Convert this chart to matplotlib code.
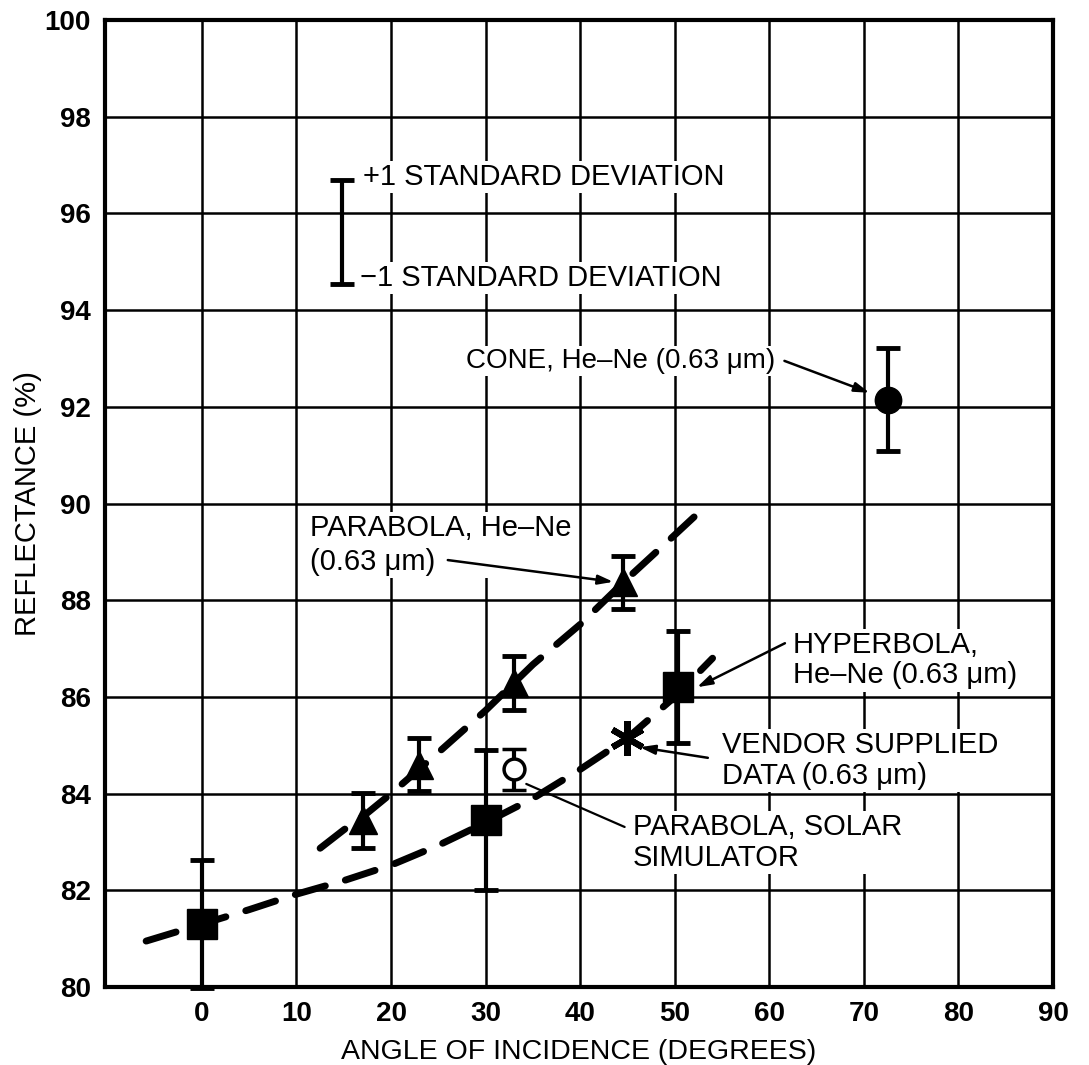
import matplotlib
matplotlib.use("Agg")
import matplotlib.pyplot as plt

plt.rcParams['font.family'] = ['Liberation Sans', 'DejaVu Sans']

# ---- data ----
hyp_x = [0, 30, 50.3]
hyp_y = [81.3, 83.45, 86.2]
hyp_err = [1.32, 1.45, 1.16]

par_x = [17, 23, 33, 44.5]
par_y = [83.45, 84.6, 86.28, 88.37]
par_err = [0.57, 0.54, 0.56, 0.55]

solar_x = [33]
solar_y = [84.5]
solar_err = [0.43]

cone_x = [72.5]
cone_y = [92.15]
cone_err = [1.07]

vendor_x = [45]
vendor_y = [85.15]

par_curve_x = [12.5, 15, 17.5, 20, 25, 30, 35, 40, 45, 50, 52.2]
par_curve_y = [82.87, 83.25, 83.6, 84.0, 84.85, 85.72, 86.67, 87.5, 88.45, 89.35, 89.75]

hyp_curve_x = [-5.9, 0, 5, 10, 15, 20, 25, 30, 35, 40, 45, 50, 54]
hyp_curve_y = [80.95, 81.3, 81.6, 81.92, 82.2, 82.52, 82.93, 83.4, 83.9, 84.5, 85.15, 86.0, 86.8]

x_ticks = [0, 10, 20, 30, 40, 50, 60, 70, 80, 90]
y_ticks = [80, 82, 84, 86, 88, 90, 92, 94, 96, 98, 100]

legend_x = 14.8
legend_lo, legend_hi = 94.55, 96.7

# ---- figure ----
W, H = 1089, 1065
fig = plt.figure(figsize=(W / 100, H / 100), dpi=100)
ax = fig.add_axes([105 / W, 1 - 987 / H, (1053 - 105) / W, (987 - 20) / H])
ax.set_xlim(-10.25, 90)
ax.set_ylim(80, 100)
ax.set_xticks(x_ticks)
ax.set_yticks(y_ticks)
ax.tick_params(length=0, labelsize=20, pad=10)
for lab in ax.get_xticklabels() + ax.get_yticklabels():
    lab.set_fontweight('bold')
ax.grid(True, color='black', lw=1.8, zorder=0)
ax.set_axisbelow(True)
for s in ax.spines.values():
    s.set_linewidth(3)
ax.set_xlabel('ANGLE OF INCIDENCE (DEGREES)', fontsize=20.5, va='center')
ax.set_ylabel('REFLECTANCE (%)', fontsize=21, va='center')
ax.xaxis.set_label_coords(0.5, -(1052 - 987) / 967)
ax.yaxis.set_label_coords(-(105 - 28) / 948, 0.5)

dash = dict(color='black', lw=5, ls=(0, (4.5, 3.0)), dash_capstyle='round', zorder=3)
ax.plot(par_curve_x, par_curve_y, **dash)
ax.plot(hyp_curve_x, hyp_curve_y, **dash)

eb = dict(color='black', elinewidth=3, capsize=8.5, capthick=3.5, ls='none', zorder=4, clip_on=False)
ax.errorbar(hyp_x, hyp_y, yerr=hyp_err, marker='s', ms=22, mfc='black', mec='black', **eb)
ax.errorbar(par_x, par_y, yerr=par_err, marker='^', ms=20, mfc='black', mec='black', **eb)
ax.errorbar(solar_x, solar_y, yerr=solar_err, marker='o', ms=15, mfc='white', mec='black', mew=2.5, **eb)
ax.errorbar(cone_x, cone_y, yerr=cone_err, marker='o', ms=19, mfc='black', mec='black', **eb)
ax.plot(vendor_x, vendor_y, ls='none', marker=(6, 2, 0), ms=25, mew=4.5, color='black', zorder=5)

# legend error bar
ax.errorbar([legend_x], [(legend_lo + legend_hi) / 2], yerr=[(legend_hi - legend_lo) / 2],
            color='black', elinewidth=3, capsize=8.5, capthick=3.5, ls='none', zorder=4)

box = dict(facecolor='white', edgecolor='none', pad=1.5)
tkw = dict(ha='left', va='center', bbox=box, zorder=6)
ax.text(17.0, 96.75, '+1 STANDARD DEVIATION', fontsize=21, **tkw)
ax.text(16.7, 94.66, '\u22121 STANDARD DEVIATION', fontsize=21, **tkw)
ax.text(27.9, 92.95, 'CONE, He\u2013Ne (0.63 \u03bcm)', fontsize=20, **tkw)
ax.text(11.4, 89.14, 'PARABOLA, He\u2013Ne\n(0.63 \u03bcm)', fontsize=21, linespacing=1.25, **tkw)
ax.text(62.5, 86.76, 'HYPERBOLA,\nHe\u2013Ne (0.63 \u03bcm)', fontsize=21, linespacing=1.12, **tkw)
ax.text(55.0, 84.69, 'VENDOR SUPPLIED\nDATA (0.63 \u03bcm)', fontsize=21, linespacing=1.12, **tkw)
ax.text(45.6, 82.99, 'PARABOLA, SOLAR\nSIMULATOR', fontsize=21, linespacing=1.14, **tkw)

arr = dict(arrowstyle='-|>,head_length=0.9,head_width=0.28', color='black', lw=1.8,
           shrinkA=0, shrinkB=0)
ax.annotate('', xy=(70.6, 92.29), xytext=(61.6, 92.95), arrowprops=arr, zorder=7)
ax.annotate('', xy=(43.5, 88.38), xytext=(26.0, 88.83), arrowprops=arr, zorder=7)
ax.annotate('', xy=(52.35, 86.2), xytext=(61.65, 87.11), arrowprops=arr, zorder=7)
ax.annotate('', xy=(46.3, 84.96), xytext=(53.5, 84.74), arrowprops=arr, zorder=7)
ax.annotate('', xy=(34.3, 84.2), xytext=(44.7, 83.31),
            arrowprops=dict(arrowstyle='-', color='black', lw=1.6, shrinkA=0, shrinkB=0), zorder=7)

fig.savefig('out.png', dpi=100)
